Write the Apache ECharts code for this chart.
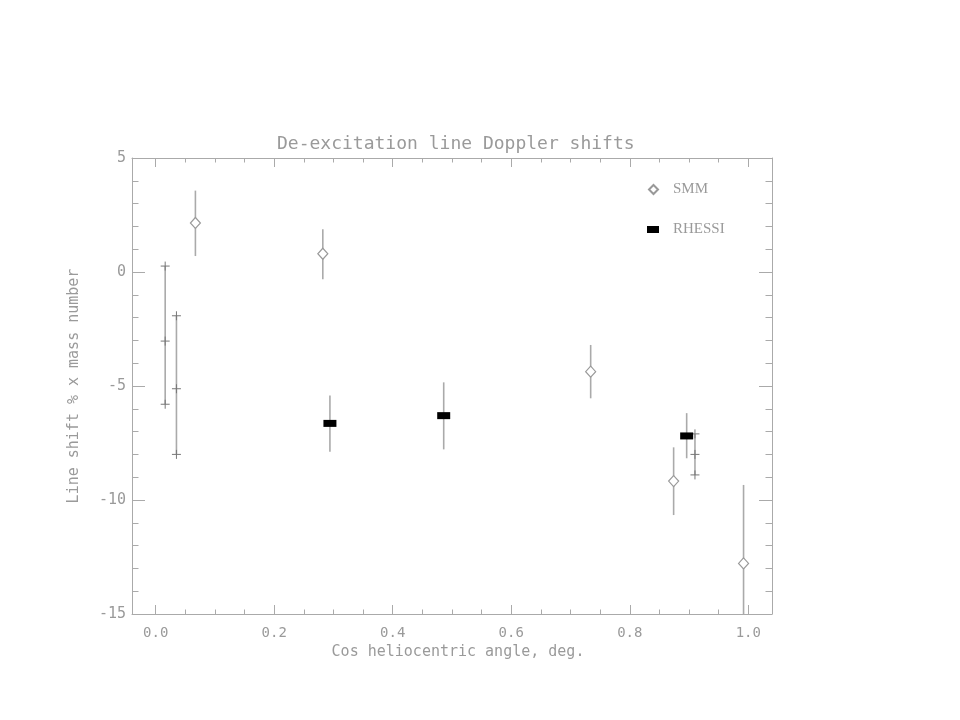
<!DOCTYPE html>
<html>
<head>
<meta charset="utf-8">
<script src="https://cdn.jsdelivr.net/npm/echarts@6/dist/echarts.min.js"></script>
<style>html,body{margin:0;padding:0;background:#fff}#c{width:960px;height:720px}</style>
</head>
<body>
<div id="c"></div>
<script>
// ---- data ----
const smmX  = [0.067, 0.282, 0.734, 0.874, 0.992];
const smmY  = [2.15, 0.80, -4.37, -9.17, -12.78];
const smmLo = [0.70, -0.32, -5.54, -10.66, -16.2];
const smmHi = [3.57, 1.87, -3.20, -7.69, -9.34];

const rhessiX  = [0.294, 0.486, 0.896];
const rhessiY  = [-6.64, -6.30, -7.19];
const rhessiLo = [-7.88, -7.78, -8.17];
const rhessiHi = [-5.42, -4.84, -6.19];

const crossX  = [0.016, 0.035, 0.910];
const crossY  = [-3.03, -5.12, -8.00];
const crossLo = [-5.80, -8.00, -8.90];
const crossHi = [0.26, -1.92, -7.10];

const xMajorTicks = [0, 0.2, 0.4, 0.6, 0.8, 1.0];
const xMinorTicks = [0.05, 0.1, 0.15, 0.25, 0.3, 0.35, 0.45, 0.5, 0.55, 0.65, 0.7, 0.75, 0.85, 0.9, 0.95];

const titleText = 'De-excitation line Doppler shifts';
const xName = 'Cos heliocentric angle, deg.';
const yName = 'Line shift % x mass number';

// ---- chart ----
const gray = '#9a9a9a';
const lineGray = '#aaaaaa';
const mono = 'DejaVu Sans Mono';

const zip = (a, b, c, d) => a.map((v, i) => [v, b[i], c[i], d[i]]);

function errBar(withCross) {
  return function (params, api) {
    const x = api.value(0);
    const c = api.coord([x, api.value(1)]);
    const lo = api.coord([x, api.value(2)]);
    const hi = api.coord([x, api.value(3)]);
    const children = [{
      type: 'line',
      shape: { x1: lo[0], y1: lo[1], x2: hi[0], y2: hi[1] },
      style: { stroke: lineGray, lineWidth: 1.6 }
    }];
    if (withCross) {
      [c, lo, hi].forEach(p => {
        children.push({ type: 'line', shape: { x1: p[0] - 4.5, y1: p[1], x2: p[0] + 4.5, y2: p[1] }, style: { stroke: '#777', lineWidth: 1 } });
        children.push({ type: 'line', shape: { x1: p[0], y1: p[1] - 4.5, x2: p[0], y2: p[1] + 4.5 }, style: { stroke: '#777', lineWidth: 1 } });
      });
    }
    return { type: 'group', children };
  };
}

const axisLineStyle = { show: true, onZero: false, lineStyle: { color: lineGray, width: 1 } };
const noLine = { show: false, onZero: false };

const chart = echarts.init(document.getElementById('c'), null, { renderer: 'canvas' });
chart.setOption({
  backgroundColor: '#ffffff',
  animation: false,
  title: {
    text: titleText, left: 272, top: 130,
    textStyle: { fontFamily: mono, fontSize: 18, fontWeight: 'normal', color: gray }
  },
  legend: [
    {
      data: ['SMM'], orient: 'vertical', left: 643, top: 177,
      itemWidth: 9, itemHeight: 9,
      textStyle: { fontFamily: 'Liberation Serif', fontSize: 15, color: gray, padding: [0, 0, 0, 10] }
    },
    {
      data: ['RHESSI'], orient: 'vertical', left: 642, top: 217,
      itemWidth: 12, itemHeight: 7,
      textStyle: { fontFamily: 'Liberation Serif', fontSize: 15, color: gray, padding: [0, 0, 0, 9] }
    }
  ],
  grid: { left: 132, right: 188, top: 158, bottom: 106 },
  xAxis: [
    {
      type: 'value', min: -0.04, max: 1.04, position: 'bottom',
      name: xName, nameLocation: 'middle', nameGap: 30,
      nameTextStyle: { fontFamily: mono, fontSize: 15, color: gray, padding: [0, 0, 0, 12] },
      axisLine: axisLineStyle,
      axisTick: { show: true, inside: true, length: 9, customValues: xMajorTicks, lineStyle: { color: lineGray } },
      axisLabel: { show: true, customValues: xMajorTicks, margin: 12, fontFamily: mono, fontSize: 14, color: gray,
        formatter: v => v.toFixed(1) },
      splitLine: { show: false }
    },
    {
      type: 'value', min: -0.04, max: 1.04, position: 'bottom',
      axisLine: noLine,
      axisTick: { show: true, inside: true, length: 4.5, customValues: xMinorTicks, lineStyle: { color: lineGray } },
      axisLabel: { show: false }, splitLine: { show: false }
    },
    {
      type: 'value', min: -0.04, max: 1.04, position: 'top',
      axisLine: axisLineStyle,
      axisTick: { show: true, inside: true, length: 9, customValues: xMajorTicks, lineStyle: { color: lineGray } },
      axisLabel: { show: false }, splitLine: { show: false }
    },
    {
      type: 'value', min: -0.04, max: 1.04, position: 'top',
      axisLine: noLine,
      axisTick: { show: true, inside: true, length: 4.5, customValues: xMinorTicks, lineStyle: { color: lineGray } },
      axisLabel: { show: false }, splitLine: { show: false }
    }
  ],
  yAxis: [
    {
      type: 'value', min: -15, max: 5, interval: 5, position: 'left',
      name: yName, nameLocation: 'middle', nameGap: 50,
      nameTextStyle: { fontFamily: mono, fontSize: 15, color: gray },
      axisLine: axisLineStyle,
      axisTick: { show: true, inside: true, length: 13, lineStyle: { color: lineGray } },
      minorTick: { show: true, splitNumber: 5, length: 6.5, lineStyle: { color: lineGray } },
      axisLabel: { margin: 6, fontFamily: mono, fontSize: 15, color: gray },
      splitLine: { show: false }
    },
    {
      type: 'value', min: -15, max: 5, interval: 5, position: 'right',
      axisLine: axisLineStyle,
      axisTick: { show: true, inside: true, length: 13, lineStyle: { color: lineGray } },
      minorTick: { show: true, splitNumber: 5, length: 6.5, lineStyle: { color: lineGray } },
      axisLabel: { show: false },
      splitLine: { show: false }
    }
  ],
  series: [
    {
      type: 'custom', name: 'smmErr', clip: true, silent: true,
      renderItem: errBar(false), data: zip(smmX, smmY, smmLo, smmHi), z: 2
    },
    {
      type: 'custom', name: 'rhessiErr', clip: true, silent: true,
      renderItem: errBar(false), data: zip(rhessiX, rhessiY, rhessiLo, rhessiHi), z: 2
    },
    {
      type: 'custom', name: 'crossErr', clip: true, silent: true,
      renderItem: errBar(true), data: zip(crossX, crossY, crossLo, crossHi), z: 3
    },
    {
      type: 'scatter', name: 'SMM', symbol: 'diamond', symbolSize: [10, 11],
      itemStyle: { color: '#ffffff', borderColor: '#999999', borderWidth: 1.2, opacity: 1 },
      data: smmX.map((x, i) => [x, smmY[i]]), z: 4
    },
    {
      type: 'scatter', name: 'RHESSI', symbol: 'rect', symbolSize: [13, 7],
      itemStyle: { color: '#000000', opacity: 1 },
      data: rhessiX.map((x, i) => [x, rhessiY[i]]), z: 5
    }
  ]
});
</script>
</body>
</html>
